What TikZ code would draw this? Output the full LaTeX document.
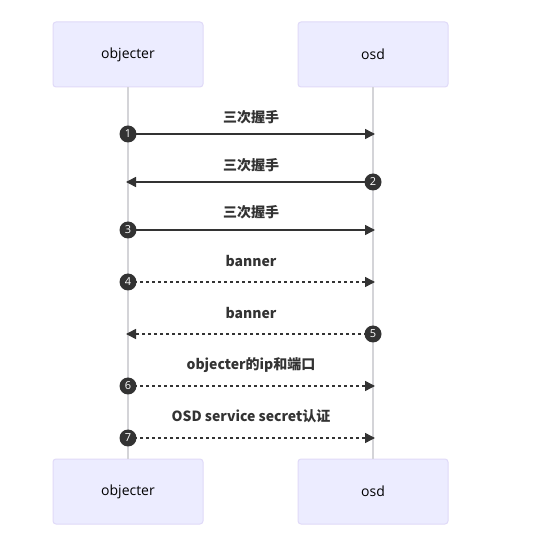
\documentclass[tikz,border=0pt]{standalone}
\usepackage{fontspec}
\setmainfont{Open Sans}
\newfontfamily\cjkfont{Noto Sans CJK SC}
\usetikzlibrary{arrows.meta}
\definecolor{actfill}{HTML}{ECECFF}
\definecolor{actdraw}{HTML}{E0DAF8}
\definecolor{lifec}{HTML}{D4D4D8}
\definecolor{msgc}{HTML}{333333}
\begin{document}
\begin{tikzpicture}[x=1pt,y=-1pt,
  actor/.style={draw=actdraw,fill=actfill,line width=1pt,rounded corners=3pt,minimum width=150pt,minimum height=65pt,inner sep=0pt,font=\fontsize{14}{16}\selectfont,text=black},
  life/.style={draw=lifec,line width=1.6pt},
  msg/.style={draw=msgc,line width=1.5pt,-{Triangle[length=10pt,width=10pt]}},
  dmsg/.style={msg,dash pattern=on 3pt off 3pt},
  num/.style={circle,fill=msgc,text=white,minimum size=17pt,inner sep=0pt,font=\fontsize{11}{12}\selectfont},
  lbl/.style={font=\cjkfont\bfseries\fontsize{14}{16}\selectfont,text=msgc,inner sep=0pt}]
\useasboundingbox (0,0) rectangle (557,534);
\fill[white] (0,0) rectangle (557,534);
\node[actor] (ot) at (128,54.5) {objecter};
\node[actor] (st) at (373,54.5) {osd};
\node[actor] (ob) at (128,491.5) {objecter};
\node[actor] (sb) at (373,491.5) {osd};
\draw[life] (ot.south) -- (ob.north);
\draw[life] (st.south) -- (sb.north);
% messages
\coordinate (a1) at (128,134); \coordinate (b1) at (375,134);
\coordinate (a2) at (126,182); \coordinate (b2) at (373,182);
\coordinate (a3) at (128,230); \coordinate (b3) at (375,230);
\coordinate (a4) at (128,282); \coordinate (b4) at (375,282);
\coordinate (a5) at (126,334); \coordinate (b5) at (373,334);
\coordinate (a6) at (128,386); \coordinate (b6) at (375,386);
\coordinate (a7) at (128,438); \coordinate (b7) at (375,438);
\draw[msg] (a1) -- (b1);
\draw[msg] (b2) -- (a2);
\draw[msg] (a3) -- (b3);
\draw[dmsg] (a4) -- (b4);
\draw[dmsg] (b5) -- (a5);
\draw[dmsg] (a6) -- (b6);
\draw[dmsg] (a7) -- (b7);
\node[lbl] (l1) at (251,117) {三次握手};
\node[lbl] (l2) at (251,165) {三次握手};
\node[lbl] (l3) at (251,212) {三次握手};
\node[lbl] (l4) at (251,261) {banner};
\node[lbl] (l5) at (251,313) {banner};
\node[lbl] (l6) at (251,365) {objecter的ip和端口};
\node[lbl] (l7) at (251,416) {OSD service secret认证};
\node[num] (n1) at (128,134) {1};
\node[num] (n2) at (373,182) {2};
\node[num] (n3) at (128,230) {3};
\node[num] (n4) at (128,282) {4};
\node[num] (n5) at (373,334) {5};
\node[num] (n6) at (128,386) {6};
\node[num] (n7) at (128,438) {7};
\end{tikzpicture}
\end{document}
